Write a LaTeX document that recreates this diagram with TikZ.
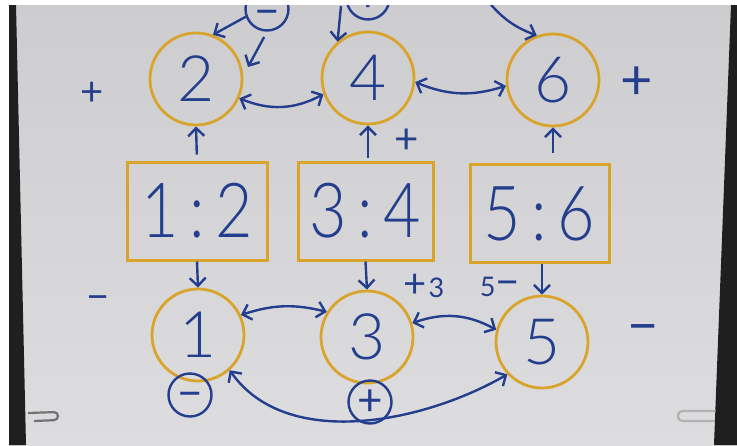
\documentclass[tikz,border=0pt]{standalone}
\usepackage{fontspec}
\setmainfont{Lato Light}
\newfontfamily\signfont{Lato}
\usetikzlibrary{arrows.meta}
\definecolor{ink}{HTML}{243E8E}
\definecolor{ring}{HTML}{D9A42C}
\definecolor{papertop}{HTML}{CDCDCF}
\definecolor{paperbot}{HTML}{DDDDDF}
\begin{document}
\begin{tikzpicture}[x=1pt,y=-1pt,
  ringc/.style={circle, draw=ring, line width=2.8pt, minimum size=92pt, inner sep=0pt,
    text=ink, font=\fontsize{64}{64}\selectfont},
  ratio/.style={draw=ring, line width=3pt, minimum height=98pt, inner sep=0pt,
    text=ink, font=\fontsize{76}{76}\selectfont},
  tipb/.tip={Straight Barb[length=8pt,width=16pt]},
  arr/.style={draw=ink, line width=2.4pt, -tipb},
  dbl/.style={draw=ink, line width=2.4pt, tipb-tipb},
  sign/.style={text=ink, inner sep=0pt, text depth=0pt},
  csign/.style={circle, draw=ink, line width=2.4pt, minimum size=43pt, inner sep=0pt,
    text=ink, font=\signfont\fontsize{44}{44}\selectfont, text height=26.4pt, text depth=0pt},
  clipper/.style={line width=2.2pt, rounded corners=4pt}
]
\useasboundingbox (0,0) rectangle (737,445);
\fill[white] (0,0) rectangle (737,445);
\shade[top color=papertop, bottom color=paperbot] (9,5) rectangle (737,445);
\fill[black!88] (9,5) -- (16,5) -- (26,445) -- (9,445) -- cycle;
\fill[black!88] (731,5) -- (737,5) -- (737,445) -- (714,445) -- cycle;

\begin{scope}
\clip (16,5) -- (731,5) -- (714,445) -- (26,445) -- cycle;

% paper clips
\draw[clipper, black!55] (28,413) -- (58,412) -- (58,420) -- (34,421);
\draw[clipper, black!30] (719,411) -- (678,411) -- (678,421) -- (719,421);

% circles
\node[ringc] (c2) at (196,79) {2};
\node[ringc] (c4) at (368,78) {4};
\node[ringc] (c6) at (553,80) {6};
\node[ringc] (c1) at (198,335) {1};
\node[ringc] (c3) at (367,337) {3};
\node[ringc] (c5) at (542,342) {5};

% ratio boxes
\node[ratio, minimum width=140pt] (b12) at (197,211) {\scalebox{0.85}[1]{1\,:\,2}};
\node[ratio, minimum width=135pt] (b34) at (365.5,211) {\scalebox{0.85}[1]{3\,:\,4}};
\node[ratio, minimum width=139pt] (b56) at (539.5,213.5) {\scalebox{0.85}[1]{5\,:\,6}};

% signs
\node[sign, font=\signfont\fontsize{40}{40}\selectfont, text height=24pt] (pl) at (92,93) {+};
\node[sign, font=\signfont\fontsize{56}{56}\selectfont, text height=33.6pt] (pr) at (637,83) {+};
\node[sign, font=\signfont\fontsize{42}{42}\selectfont, text height=25.2pt] (pm) at (407,141) {+};
\node[sign, font=\signfont\fontsize{40}{40}\selectfont, text height=24pt] (ml) at (98,298) {−};
\node[sign, font=\signfont\fontsize{54}{54}\selectfont, text height=32.4pt] (mr) at (643,328) {−};
\node[sign, font=\signfont, text height=24pt] (p3) at (424,285) {{\fontsize{40}{40}\selectfont +}\,{\fontsize{27}{27}\selectfont 3}};
\node[sign, font=\signfont, text height=25.2pt] (m5) at (500,284) {{\fontsize{27}{27}\selectfont 5}{\fontsize{42}{42}\selectfont −}};

% circled signs
\node[csign, text height=34pt] (tm) at (267,9) {−};
\node[csign] (tp) at (368,-2) {+};
\node[csign] (bm) at (190,395) {−};
\node[csign] (bp) at (370,402) {+};

% vertical arrows
\draw[arr, shorten <=6pt] (b12.north) -- (c2.south);
\draw[arr, shorten <=3pt] (b34.north -| c4) -- (c4.south);
\draw[arr, shorten <=10pt] (b56.north -| c6) -- (c6.south);
\draw[arr] (b12.south) -- (c1.north);
\draw[arr] (b34.south) -- (c3.north);
\draw[arr] (b56.south -| c5) -- (c5.north);

% double arrows
\draw[dbl] (c2.-24) to[bend right=25] (c4.200);
\draw[dbl] (c4.-5) to[bend right=20] (c6.187);
\draw[dbl] (c1.25) to[bend left=16] (c3.148);
\draw[dbl] (c3.17) to[bend left=24] (c5.165);
\draw[dbl] (c1.-48) to[out=-55,in=210,looseness=0.9] (c5.223);

% top arrows
\coordinate (t2) at (248,67);
\coordinate (t3) at (341,6);
\coordinate (t4) at (487,0);
\draw[arr] (tm.200) -- (c2.69);
\draw[arr, shorten <=6pt] (tm.south) -- (t2);
\draw[arr] (t3) -- (c4.130);
\draw[arr] (t4) to[bend right=15] (c6.110);
\end{scope}
\end{tikzpicture}
\end{document}
